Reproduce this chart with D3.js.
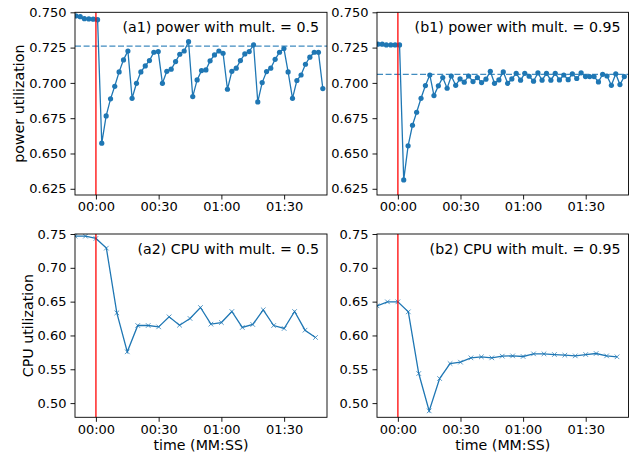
<!DOCTYPE html>
<html>
<head>
<meta charset="utf-8">
<script src="https://cdn.jsdelivr.net/npm/d3@7"></script>
<style>
body { margin: 0; background: #fff; }
svg { font-family: "DejaVu Sans", sans-serif; }
</style>
</head>
<body>
<script>
const width = 630;
const height = 454;

// seconds relative to the change (00:00)
const powerTimes = [-9.6, -7.5, -5.5, -3.4, -1.3, 0.8, 2.8, 4.9, 7.0, 9.0,
  11.1, 13.2, 15.3, 17.3, 19.4, 21.5, 23.6, 25.6, 27.7, 29.8,
  31.8, 33.9, 36.0, 38.1, 40.1, 42.2, 44.3, 46.3, 48.4, 50.5,
  52.6, 54.6, 56.7, 58.8, 60.8, 62.9, 65.0, 67.1, 69.1, 71.2,
  73.3, 75.4, 77.4, 79.5, 81.6, 83.6, 85.7, 87.8, 89.9, 91.9,
  94.0, 96.1, 98.1, 100.2, 102.3, 104.4, 106.4, 108.5];

const powerA = [0.7474, 0.7469, 0.7455, 0.7453, 0.7451, 0.7448,
  0.6573, 0.6766, 0.6887, 0.6976, 0.7078, 0.7163, 0.7226,
  0.6891, 0.6997, 0.7078, 0.7120, 0.7158, 0.7217, 0.7222,
  0.6997, 0.7082, 0.7097, 0.7151, 0.7203, 0.7226, 0.7292,
  0.6903, 0.7021, 0.7087, 0.7092, 0.7156, 0.7198, 0.7226, 0.7210,
  0.6955, 0.7082, 0.7104, 0.7158, 0.7205, 0.7222, 0.7269,
  0.6865, 0.7002, 0.7080, 0.7104, 0.7167, 0.7217, 0.7243, 0.7078,
  0.6891, 0.7017, 0.7056, 0.7132, 0.7182, 0.7217, 0.7217, 0.6960];

const powerB = [0.7274, 0.7274, 0.7269, 0.7269, 0.7269, 0.7269,
  0.6313, 0.6554, 0.6700, 0.6792, 0.6891, 0.6981, 0.7056,
  0.6910, 0.6979, 0.7038, 0.6962, 0.7049, 0.6983, 0.7028,
  0.7005, 0.7049, 0.7009, 0.7038, 0.7002, 0.7026, 0.7082,
  0.6997, 0.7021, 0.7078, 0.6997, 0.7028, 0.7068, 0.7019,
  0.7068, 0.7047, 0.7012, 0.7071, 0.7019, 0.7068, 0.7019,
  0.7068, 0.7021, 0.7056, 0.7023, 0.7064, 0.7031, 0.7071,
  0.7045, 0.7045, 0.7045, 0.7007, 0.7061, 0.7049, 0.6983,
  0.7064, 0.6988, 0.7045];

const powerMeanA = 0.7261;
const powerMeanB = 0.7061;

const cpuTimes = [-10, -5, 0, 5, 10, 15, 20, 25, 30, 35, 40, 45,
  50, 55, 60, 65, 70, 75, 80, 85, 90, 95, 100, 105];

const cpuA = [0.7468, 0.7468, 0.7434, 0.7291, 0.6334, 0.5758, 0.6147, 0.6147,
  0.6127, 0.6275, 0.6152, 0.6251, 0.6413, 0.6167, 0.6191, 0.6354,
  0.6118, 0.6162, 0.6379, 0.6147, 0.6103, 0.6354, 0.6078, 0.5970];

const cpuB = [0.6438, 0.6497, 0.6497, 0.6349, 0.5437, 0.4885, 0.5363, 0.5585,
  0.5605, 0.5669, 0.5684, 0.5669, 0.5694, 0.5698, 0.5689, 0.5728,
  0.5728, 0.5718, 0.5708, 0.5698, 0.5718, 0.5733, 0.5698, 0.5684];

const xTicks = [0, 30, 60, 90];
const xTickLabels = ["00:00", "00:30", "01:00", "01:30"];
const powerTicks = [0.625, 0.650, 0.675, 0.700, 0.725, 0.750];
const cpuTicks = [0.50, 0.55, 0.60, 0.65, 0.70, 0.75];

const blue = "#1f77b4";
const labelSize = 14.2;

const svg = d3.select("body")
  .append("svg")
  .attr("width", width)
  .attr("height", height);

var defs = svg.append("defs");

function drawPanel(p, idx) {
  var x = d3.scaleLinear().domain([-10, 110.5]).range([p.left, p.right]);
  var y = d3.scaleLinear().domain(p.yDomain).range([p.bottom, p.top]);

  defs.append("clipPath").attr("id", "clip" + idx)
    .append("rect")
    .attr("x", p.left).attr("y", p.top)
    .attr("width", p.right - p.left).attr("height", p.bottom - p.top);

  var g = svg.append("g");
  var plot = g.append("g").attr("clip-path", "url(#clip" + idx + ")");

  var pts = p.times.map(function(t, i) { return [t, p.values[i]]; });

  var line = d3.line()
    .x(function(d) { return x(d[0]); })
    .y(function(d) { return y(d[1]); });

  plot.append("path")
    .datum(pts)
    .attr("d", line)
    .attr("fill", "none")
    .attr("stroke", blue)
    .attr("stroke-width", 1.3);

  if (p.marker == "o") {
    plot.selectAll("circle")
      .data(pts)
      .enter().append("circle")
      .attr("cx", function(d) { return x(d[0]); })
      .attr("cy", function(d) { return y(d[1]); })
      .attr("r", 2.6)
      .attr("fill", blue);
  } else {
    plot.selectAll(".mk")
      .data(pts)
      .enter().append("path")
      .attr("class", "mk")
      .attr("transform", function(d) { return "translate(" + x(d[0]) + "," + y(d[1]) + ")"; })
      .attr("d", "M-2.3,-2.3L2.3,2.3M-2.3,2.3L2.3,-2.3")
      .attr("stroke", blue)
      .attr("stroke-opacity", 0.75)
      .attr("stroke-width", 1);
  }

  if (p.mean != null) {
    plot.append("line")
      .attr("x1", p.left).attr("x2", p.right)
      .attr("y1", y(p.mean)).attr("y2", y(p.mean))
      .attr("stroke", blue)
      .attr("stroke-opacity", 0.85)
      .attr("stroke-width", 1.3)
      .attr("stroke-dasharray", "6,2.6");
  }

  // moment of the change
  plot.append("line")
    .attr("x1", x(0)).attr("x2", x(0))
    .attr("y1", p.top).attr("y2", p.bottom)
    .attr("stroke", "#ff0000")
    .attr("stroke-opacity", 0.8)
    .attr("stroke-width", 1.6);

  var xAxis = g.append("g")
    .attr("transform", "translate(0," + p.bottom + ")")
    .call(d3.axisBottom(x)
      .tickValues(xTicks)
      .tickFormat(function(d, i) { return xTickLabels[i]; })
      .tickSize(4.5)
      .tickPadding(2.5)
      .tickSizeOuter(0));

  var yAxis = g.append("g")
    .attr("transform", "translate(" + p.left + ",0)")
    .call(d3.axisLeft(y)
      .tickValues(p.ticks)
      .tickFormat(d3.format(p.fmt))
      .tickSize(4.5)
      .tickPadding(4)
      .tickSizeOuter(0));

  [xAxis, yAxis].forEach(function(a) {
    a.select(".domain").remove();
    a.selectAll("text").attr("font-size", 13).attr("fill", "#000").attr("font-family", "DejaVu Sans");
    a.selectAll("line").attr("stroke", "#000").attr("stroke-width", 0.9);
  });

  g.append("rect")
    .attr("x", p.left).attr("y", p.top)
    .attr("width", p.right - p.left).attr("height", p.bottom - p.top)
    .attr("fill", "none")
    .attr("stroke", "#000")
    .attr("stroke-width", 0.9);

  g.append("text")
    .attr("x", p.right - 8)
    .attr("y", p.top + 15)
    .attr("text-anchor", "end")
    .attr("dominant-baseline", "central")
    .attr("font-size", labelSize)
    .text(p.title);

  if (p.ylabel) {
    g.append("text")
      .attr("transform", "translate(" + p.ylabelX + "," + (p.top + p.bottom) / 2 + ") rotate(-90)")
      .attr("text-anchor", "middle")
      .attr("dominant-baseline", "central")
      .attr("font-size", labelSize)
      .text(p.ylabel);
  }

  if (p.xlabel) {
    g.append("text")
      .attr("x", (p.left + p.right) / 2)
      .attr("y", 444.5)
      .attr("text-anchor", "middle")
      .attr("dominant-baseline", "central")
      .attr("font-size", labelSize)
      .text(p.xlabel);
  }
}

var panels = [
  { left: 75, right: 327, top: 12.3, bottom: 195, yDomain: [0.6206, 0.75],
    times: powerTimes, values: powerA, marker: "o", mean: powerMeanA,
    ticks: powerTicks, fmt: ".3f", title: "(a1) power with mult. = 0.5",
    ylabel: "power utilization", ylabelX: 19 },
  { left: 377, right: 628.5, top: 12.3, bottom: 195, yDomain: [0.6206, 0.75],
    times: powerTimes, values: powerB, marker: "o", mean: powerMeanB,
    ticks: powerTicks, fmt: ".3f", title: "(b1) power with mult. = 0.95" },
  { left: 75, right: 327, top: 234, bottom: 417.3, yDomain: [0.479, 0.75],
    times: cpuTimes, values: cpuA, marker: "x", mean: null,
    ticks: cpuTicks, fmt: ".2f", title: "(a2) CPU with mult. = 0.5",
    ylabel: "CPU utilization", ylabelX: 27.5, xlabel: "time (MM:SS)" },
  { left: 377, right: 628.5, top: 234, bottom: 417.3, yDomain: [0.479, 0.75],
    times: cpuTimes, values: cpuB, marker: "x", mean: null,
    ticks: cpuTicks, fmt: ".2f", title: "(b2) CPU with mult. = 0.95",
    xlabel: "time (MM:SS)" }
];

panels.forEach(drawPanel);
</script>
</body>
</html>
